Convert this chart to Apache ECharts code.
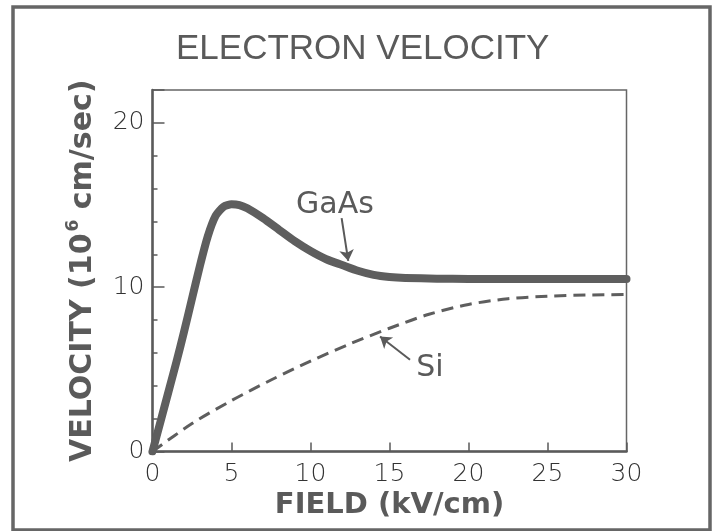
<!DOCTYPE html>
<html>
<head>
<meta charset="utf-8">
<script src="https://cdn.jsdelivr.net/npm/echarts@6/dist/echarts.min.js"></script>
<style>
html,body{margin:0;padding:0;background:#fff;}
#chart{width:718px;height:531px;}
</style>
</head>
<body>
<div id="chart"></div>
<script>
// Field (kV/cm) and velocity (10^6 cm/sec)
const gaasField = [0, 0.5, 1, 1.5, 2, 2.5, 3, 3.5, 4, 4.5, 5, 5.5, 6, 7, 8, 9, 10, 11, 12, 13, 14, 15, 16, 18, 20, 25, 30];
const gaasVelocity = [0, 1.8, 3.6, 5.4, 7.3, 9.3, 11.3, 13.1, 14.35, 14.9, 15.05, 15.0, 14.8, 14.2, 13.5, 12.8, 12.2, 11.7, 11.35, 11.0, 10.75, 10.62, 10.56, 10.52, 10.5, 10.5, 10.5];
const siField = [0, 2.5, 5, 7.5, 10, 12.5, 15, 17.5, 20, 22.5, 25, 27.5, 30];
const siVelocity = [0, 1.7, 3.1, 4.35, 5.5, 6.55, 7.5, 8.35, 8.95, 9.3, 9.45, 9.52, 9.55];
const xTicks = [0, 5, 10, 15, 20, 25, 30];
const yTicks = [0, 10, 20];
// annotation anchor points (data coordinates)
const gaasLabelAt = [11.55, 15.0];
const gaasArrow = [[11.97, 14.2], [12.39, 11.6]];
const siLabelAt = [17.56, 5.07];
const siArrow = [[16.3, 5.58], [14.4, 7.0]];

const ink = '#5a5a5a';
const chart = echarts.init(document.getElementById('chart'), null, {renderer: 'canvas'});

function pairs(xs, ys) { return xs.map((x, i) => [x, ys[i]]); }

chart.setOption({
  animation: false,
  backgroundColor: '#fff',
  title: {
    text: 'ELECTRON VELOCITY',
    left: 171,
    top: 27,
    textStyle: {fontFamily: 'Liberation Sans', fontSize: 35, fontWeight: 'normal', color: ink}
  },
  graphic: [{
    type: 'rect',
    shape: {x: 13, y: 7, width: 697, height: 523},
    style: {fill: 'none', stroke: '#666', lineWidth: 3.5},
    silent: true
  }],
  grid: {
    left: 152.5, right: 91.5, top: 90, bottom: 79.5,
    show: true, borderColor: '#666', borderWidth: 1.5, backgroundColor: 'transparent'
  },
  xAxis: {
    type: 'value', min: xTicks[0], max: xTicks[xTicks.length - 1], interval: 5,
    name: 'FIELD (kV/cm)', nameLocation: 'middle', nameGap: 34,
    nameTextStyle: {fontFamily: 'DejaVu Sans', fontWeight: 'bold', fontSize: 29, color: ink},
    axisLine: {show: true, lineStyle: {color: ink, width: 2.5}},
    axisTick: {show: true, inside: true, length: 9, lineStyle: {color: ink, width: 1.5}},
    axisLabel: {
      margin: 10, fontFamily: 'DejaVu Sans', fontWeight: 200, fontSize: 25, color: '#333',
      formatter: v => xTicks.indexOf(v) >= 0 ? String(v) : ''
    },
    splitLine: {show: false}
  },
  yAxis: [{
    type: 'value', min: 0, max: 22, interval: 2, position: 'left',
    name: '{a|VELOCITY (10}{s|6}{a| cm/sec)}', nameLocation: 'middle', nameGap: 52,
    nameTextStyle: {
      rich: {
        a: {fontFamily: 'DejaVu Sans', fontWeight: 'bold', fontSize: 30, color: ink},
        s: {fontFamily: 'DejaVu Sans', fontWeight: 'bold', fontSize: 17, color: ink, padding: [0, 0, 18, 2]}
      }
    },
    axisLine: {show: true, lineStyle: {color: ink, width: 2.5}},
    axisTick: {show: true, inside: true, length: 5, lineStyle: {color: ink, width: 1.5}},
    axisLabel: {
      margin: 8, fontFamily: 'DejaVu Sans', fontWeight: 200, fontSize: 25, color: '#333',
      formatter: v => yTicks.indexOf(v) >= 0 ? String(v) : ''
    },
    splitLine: {show: false}
  }, {
    type: 'value', min: 0, max: 22, interval: 10, position: 'left', offset: 0,
    axisLine: {show: false},
    axisTick: {show: true, inside: true, length: 12, lineStyle: {color: ink, width: 1.5}},
    axisLabel: {show: false},
    splitLine: {show: false}
  }],
  series: [{
    name: 'GaAs', type: 'line', smooth: 0.2, showSymbol: false, symbol: 'none',
    data: pairs(gaasField, gaasVelocity),
    lineStyle: {color: '#5e5e5e', width: 8, cap: 'round', join: 'round'},
    markLine: {
      silent: true, symbol: ['none', 'arrow'], symbolSize: 11,
      label: {show: false},
      lineStyle: {color: ink, width: 2, type: 'solid'},
      data: [[{coord: gaasArrow[0]}, {coord: gaasArrow[1]}]]
    },
    markPoint: {
      silent: true, symbol: 'circle', symbolSize: 0,
      label: {show: true, position: 'inside', formatter: 'GaAs', fontFamily: 'DejaVu Sans', fontSize: 30, color: ink},
      data: [{coord: gaasLabelAt}]
    }
  }, {
    name: 'Si', type: 'line', smooth: 0.3, showSymbol: false, symbol: 'none',
    data: pairs(siField, siVelocity),
    lineStyle: {color: '#5e5e5e', width: 3, type: [12, 7]},
    markLine: {
      silent: true, symbol: ['none', 'arrow'], symbolSize: 11,
      label: {show: false},
      lineStyle: {color: ink, width: 2, type: 'solid'},
      data: [[{coord: siArrow[0]}, {coord: siArrow[1]}]]
    },
    markPoint: {
      silent: true, symbol: 'circle', symbolSize: 0,
      label: {show: true, position: 'inside', formatter: 'Si', fontFamily: 'DejaVu Sans', fontSize: 30, color: ink},
      data: [{coord: siLabelAt}]
    }
  }]
});
</script>
</body>
</html>
